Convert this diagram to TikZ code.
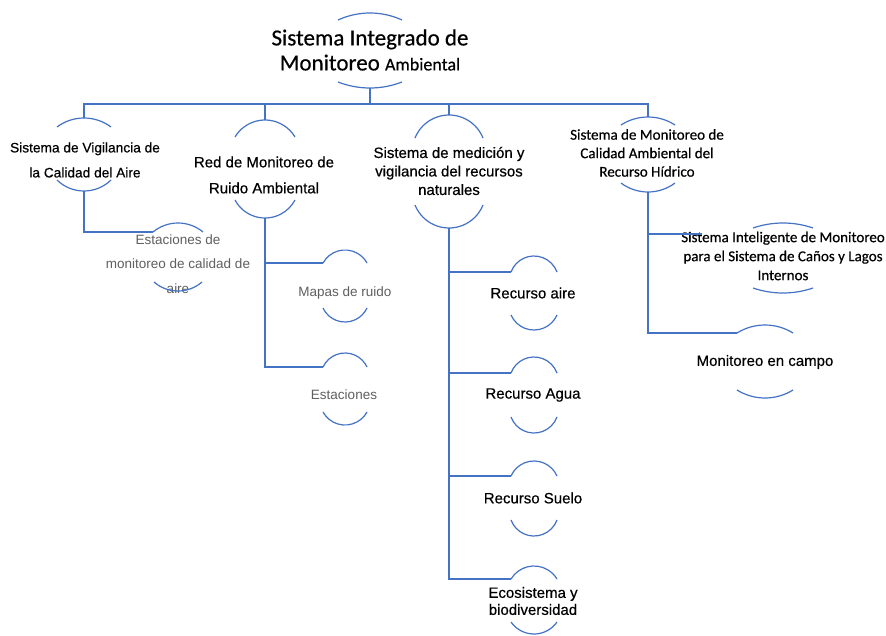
\documentclass[tikz,border=0pt]{standalone}
\usepackage{fontspec}
\setmainfont{Liberation Sans}
\newfontfamily\calfont{Carlito}
\newfontfamily\heavyfont[FakeBold=0.45]{Liberation Sans}
\newfontfamily\heavycal[FakeBold=0.45]{Carlito}
\definecolor{linkblue}{RGB}{68,114,196}
\definecolor{softgray}{RGB}{95,95,95}

% Top arc of a node: name, centre x, apex y (downwards), half width, rise
\newcommand\toparc[5]{%
  \pgfmathsetmacro\arcR{(#4*#4+#5*#5)/(2*#5)}%
  \pgfmathsetmacro\arcA{asin(#4/\arcR)}%
  \coordinate (#1-t) at (#2,-#3);
  \coordinate (#1-l) at (#2-#4,-#3-#5);
  \draw[arcline] (#1-l) arc[start angle=90+\arcA, end angle=90-\arcA, radius=\arcR];
}
% Bottom arc of a node: name, centre x, lowest y (downwards), half width, rise
\newcommand\botarc[5]{%
  \pgfmathsetmacro\arcR{(#4*#4+#5*#5)/(2*#5)}%
  \pgfmathsetmacro\arcA{asin(#4/\arcR)}%
  \coordinate (#1-b) at (#2,-#3);
  \draw[arcline] (#2-#4,-#3+#5) arc[start angle=270-\arcA, end angle=270+\arcA, radius=\arcR];
}

\begin{document}
\begin{tikzpicture}[x=1pt,y=1pt,
  arcline/.style={draw=linkblue, line width=1.2pt},
  link/.style={draw=linkblue, line width=1.3pt},
  label/.style={inner sep=0pt, align=center, text=black},
  titletext/.style={label, font=\heavycal\fontsize{23}{25}\selectfont},
  headA/.style={label, font=\heavyfont\fontsize{13.7}{25}\selectfont},
  headB/.style={label, font=\heavyfont\fontsize{15}{26}\selectfont},
  headC/.style={label, font=\heavyfont\fontsize{15}{18.5}\selectfont},
  headD/.style={label, font=\heavycal\fontsize{15}{18.5}\selectfont},
  subgray/.style={label, text=softgray, font=\fontsize{13.5}{24.5}\selectfont},
  subblack/.style={label, font=\heavyfont\fontsize{15}{17}\selectfont},
  subcal/.style={label, font=\heavycal\fontsize{15}{19}\selectfont}]
\useasboundingbox (0,0) rectangle (886,-635);
\fill[white] (0,0) rectangle (886,-635);

% ---- texts ----
\node[titletext] (title) at (370,-50) {Sistema Integrado de\\Monitoreo {\fontsize{18}{25}\selectfont Ambiental}};
\node[headA] (vig) at (85,-160) {Sistema de Vigilancia de\\la Calidad del Aire};
\node[headB] (ruido) at (264,-175) {Red de Monitoreo de\\Ruido Ambiental};
\node[headC] (med) at (449,-171) {Sistema de medición y\\vigilancia del recursos\\naturales};
\node[headD] (hid) at (647,-153) {Sistema de Monitoreo de\\Calidad Ambiental del\\Recurso Hídrico};

\node[subgray] (est1) at (178,-264) {Estaciones de\\monitoreo de calidad de\\aire};
\node[subgray] (mapas) at (345,-293) {Mapas de ruido};
\node[subgray] (est2) at (344,-395) {Estaciones};

\node[subblack] (aire) at (533,-293) {Recurso aire};
\node[subblack] (agua) at (533,-395) {Recurso Agua};
\node[subblack] (suelo) at (533,-498) {Recurso Suelo};
\node[subblack] (eco) at (533,-601) {Ecosistema y\\biodiversidad};

\node[subcal] (intel) at (783,-256) {Sistema Inteligente de Monitoreo\\para el Sistema de Caños y Lagos\\Internos};
\node[subblack] (campo) at (765,-362) {Monitoreo en campo};

% ---- arcs around each text ----
\toparc{title}{370}{13}{32}{7}   \botarc{title}{370}{88}{32}{6}
\toparc{vig}{84}{118}{27}{9}     \botarc{vig}{84}{191}{27}{11}
\toparc{est1}{178}{223}{25}{9}   \botarc{est1}{178}{291}{24}{9}
\toparc{ruido}{265}{120}{30}{17} \botarc{ruido}{265}{218}{30}{18}
\toparc{mapas}{345}{250}{22}{13} \botarc{mapas}{345}{322}{22}{14}
\toparc{est2}{345}{353}{22}{14}  \botarc{est2}{345}{425}{22}{13}
\toparc{med}{449}{115}{34}{23}   \botarc{med}{449}{228}{34}{23}
\toparc{aire}{534}{256}{23}{16}  \botarc{aire}{534}{330}{23}{15}
\toparc{agua}{534}{357}{23}{16}  \botarc{agua}{534}{433}{23}{16}
\toparc{suelo}{534}{461}{23}{15} \botarc{suelo}{534}{536}{23}{16}
\toparc{eco}{534}{566}{23}{13}   \botarc{eco}{534}{634}{23}{12}
\toparc{hid}{648}{117}{27}{8}    \botarc{hid}{648}{192}{27}{9}
\toparc{intel}{783}{223}{30}{5}  \botarc{intel}{783}{293}{30}{5}
\toparc{campo}{765}{325}{28}{8}  \botarc{campo}{765}{398}{28}{8}

% ---- connectors ----
\coordinate (bus) at (0,-104);
\coordinate (intel-in) at (702,-234);
\draw[link] (title-b) -- (title-b |- bus);
\draw[link] (vig-t) -- (vig-t |- bus) -- (hid-t |- bus) -- (hid-t);
\draw[link] (ruido-t) -- (ruido-t |- bus);
\draw[link] (med-t) -- (med-t |- bus);

\draw[link] (vig-b) |- (est1-l);
\draw[link] (ruido-b) |- (mapas-l);
\draw[link] (ruido-b) |- (est2-l);
\draw[link] (med-b) |- (aire-l);
\draw[link] (med-b) |- (agua-l);
\draw[link] (med-b) |- (suelo-l);
\draw[link] (med-b) |- (eco-l);
\draw[link] (hid-b) |- (intel-in);
\draw[link] (hid-b) |- (campo-l);
\end{tikzpicture}
\end{document}
